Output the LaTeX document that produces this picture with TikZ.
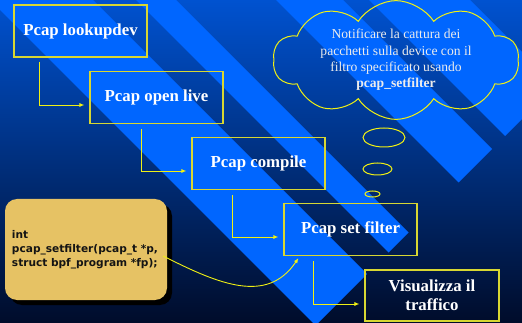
\documentclass[tikz,border=0pt]{standalone}
\usepackage{fontspec}
\setmainfont{Liberation Serif}
\newfontfamily\codefont{DejaVu Sans}
\usetikzlibrary{shapes.geometric,shapes.symbols,arrows.meta,shadows}
\definecolor{bgtop}{RGB}{0,82,208}
\definecolor{bgmid}{RGB}{0,58,155}
\definecolor{bgbot}{RGB}{0,12,42}
\definecolor{stripecol}{RGB}{0,102,255}
\definecolor{boxline}{RGB}{215,215,50}
\definecolor{yel}{RGB}{240,240,20}
\definecolor{sand}{RGB}{230,194,100}
\definecolor{cloudtext}{RGB}{236,236,236}
\tikzset{
  stepbox/.style={draw=boxline, line width=1.1pt, minimum width=133pt, minimum height=52pt,
    inner sep=0pt, text=white, font=\fontsize{16.8}{19}\selectfont\bfseries, align=center},
  conn/.style={draw=yel, line width=0.9pt, -{Latex[length=5pt,width=4pt]}},
  thought/.style={ellipse, draw=yel, line width=1pt, inner sep=0pt},
}
\begin{document}
\begin{tikzpicture}[x=1pt,y=-1pt]
\useasboundingbox (0,0) rectangle (522,323);
\shade[top color=bgtop, middle color=bgmid, bottom color=bgbot] (0,0) rectangle (522,323);
\begin{scope}
\clip (0,0) rectangle (522,323);
\foreach \a/\b in {-10/93,136/176,276/343,369/470}
  \fill[stripecol] (\a,0) -- (\b,0) -- ({(641+\b)/2},{(641-\b)/2}) -- ({(641+\a)/2},{(641-\a)/2}) -- cycle;
\end{scope}

\node[stepbox] (lk) at (80.5,31) {Pcap lookupdev};
\node[stepbox] (ol) at (156.5,97.5) {Pcap open live};
\node[stepbox] (cp) at (258.5,163.5) {Pcap compile};
\node[stepbox] (sf) at (350.5,229.5) {Pcap set filter};
\node[stepbox, minimum width=134pt, minimum height=51pt] (vis) at (432,295.5) {Visualizza il\\traffico};

\node[cloud, cloud puffs=10, cloud puff arc=115, cloud ignores aspect, draw=yel, line width=1pt,
  minimum width=246pt, minimum height=104pt, inner sep=0pt, text=cloudtext,
  font=\fontsize{13.6}{16.3}\selectfont, align=center] (cl) at (396,60)
  {Notificare la cattura dei\\pacchetti sulla device con il\\filtro specificato usando\\\textbf{pcap\_setfilter}};

\node[thought, minimum width=42pt, minimum height=19pt] (t1) at (384,137.5) {};
\node[thought, minimum width=29pt, minimum height=12pt] (t2) at (377.5,169) {};
\node[thought, minimum width=15pt, minimum height=6pt] (t3) at (372.5,194) {};

\node[rounded corners=12pt, fill=sand, drop shadow={shadow xshift=5pt, shadow yshift=-5pt, opacity=1, fill=black},
  minimum width=162pt, minimum height=101pt, text width=148pt, inner xsep=7pt, inner ysep=0pt, align=left,
  text=black!92, font=\codefont\bfseries\fontsize{10.6}{14}\selectfont] (code) at (86,249.5)
  {int\\pcap\_setfilter(pcap\_t *p,\\struct bpf\_program *fp);};

\draw[conn] ([xshift=26pt,yshift=-4pt]lk.south west) |- ([xshift=-5pt,yshift=-7.5pt]ol.west);
\draw[conn] ([xshift=52pt,yshift=-5pt]ol.south west) |- ([xshift=-5pt,yshift=-7.5pt]cp.west);
\draw[conn] ([xshift=41pt,yshift=-5pt]cp.south west) |- ([xshift=-5pt,yshift=-7.5pt]sf.west);
\draw[conn] ([xshift=30pt,yshift=-5pt]sf.south west) |- ([xshift=-5pt,yshift=-8.5pt]vis.west);
\draw[conn] ([xshift=-4pt,yshift=-6.5pt]code.east) .. controls +(57,29) and +(-31,46) .. ([xshift=15pt,yshift=-2pt]sf.south west);
\end{tikzpicture}
\end{document}
